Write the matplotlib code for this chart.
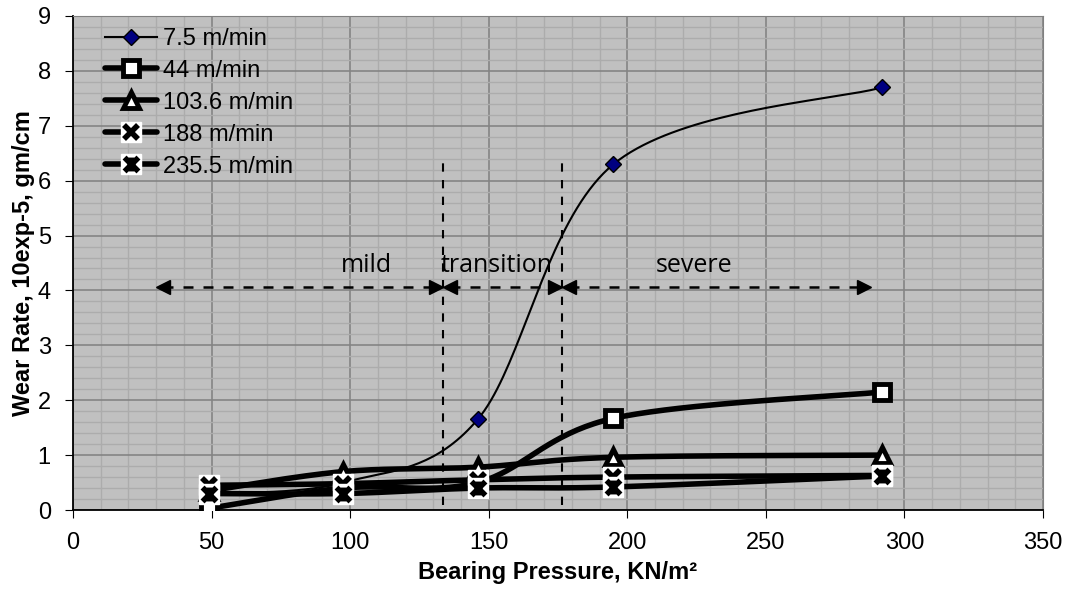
import numpy as np
import matplotlib.pyplot as plt
from matplotlib.path import Path
from matplotlib.legend_handler import HandlerTuple

# Datos
presion = [49, 97.5, 146, 195, 292]
v_7_5 = [0.3, 0.5, 1.65, 6.3, 7.7]
v_44 = [0.03, 0.4, 0.5, 1.67, 2.15]
v_103_6 = [0.35, 0.7, 0.78, 0.96, 1.0]
v_188 = [0.45, 0.48, 0.55, 0.6, 0.63]
v_235_5 = [0.3, 0.3, 0.4, 0.42, 0.62]
etiquetas = ["7.5 m/min", "44 m/min", "103.6 m/min", "188 m/min", "235.5 m/min"]

# zonas
limites = [133.5, 176.5]
flecha_inicio = 30
flecha_fin = 288
nombres_zona = ["mild", "transition", "severe"]
x_nombres = [106, 153, 224]

# escala de pixeles para suavizar como Excel
sx = 970 / 350
sy = 55


def suavizar(x, y, n=40):
    # Catmull-Rom (bezier) en coordenadas de pantalla
    p = np.column_stack([np.array(x) * sx, np.array(y) * sy])
    pts = [p[0]] + list(p) + [p[-1]]
    out = []
    for i in range(1, len(pts) - 2):
        p0, p1, p2, p3 = pts[i - 1], pts[i], pts[i + 1], pts[i + 2]
        c1 = p1 + (p2 - p0) / 6
        c2 = p2 - (p3 - p1) / 6
        t = np.linspace(0, 1, n)[:, None]
        seg = ((1 - t) ** 3) * p1 + 3 * ((1 - t) ** 2) * t * c1 + 3 * (1 - t) * t ** 2 * c2 + t ** 3 * p2
        out.append(seg)
    out = np.vstack(out)
    return out[:, 0] / sx, out[:, 1] / sy


estrella = Path([(-1, -1), (1, 1), (-1, 1), (1, -1), (0, -1), (0, 1)],
                [Path.MOVETO, Path.LINETO, Path.MOVETO, Path.LINETO, Path.MOVETO, Path.LINETO])

plt.rcParams['font.family'] = ['Liberation Sans', 'DejaVu Sans']

fig = plt.figure(figsize=(10.68, 5.92), dpi=100)
ax = fig.add_axes([0.0684, 0.1385, 0.9082, 0.8345])
ax.set_facecolor('#c0c0c0')

ax.set_xlim(0, 350)
ax.set_ylim(0, 9)
ax.set_xticks(np.arange(0, 351, 50))
ax.set_yticks(np.arange(0, 10, 1))
ax.set_xticks(np.arange(0, 351, 10), minor=True)
ax.set_yticks(np.arange(0, 9.01, 0.2), minor=True)
ax.grid(which='minor', color='#acacac', lw=1)
ax.grid(which='major', color='#848484', lw=1.2)
ax.set_axisbelow(True)
ax.tick_params(which='minor', length=0)
ax.tick_params(which='major', direction='out', length=6, labelsize=17, color='black')
ax.tick_params(axis='x', pad=10)
ax.tick_params(axis='y', pad=10)
for lado in ['top', 'right']:
    ax.spines[lado].set_color('#808080')
for lado in ['left', 'bottom']:
    ax.spines[lado].set_color('black')
    ax.spines[lado].set_linewidth(1.3)

ax.set_xlabel("Bearing Pressure, KN/m²", fontsize=17, fontweight='bold', labelpad=5)
ax.set_ylabel("Wear Rate, 10exp-5, gm/cm", fontsize=17, fontweight='bold', labelpad=2)

handles = []

# 7.5 m/min
xs, ys = suavizar(presion, v_7_5)
l1, = ax.plot(xs, ys, color='black', lw=1.5, zorder=3)
m1, = ax.plot(presion, v_7_5, ls='none', marker='D', ms=8, mfc='#000080', mec='black', mew=1, zorder=3)
handles.append((l1, m1))

# 44 m/min
xs, ys = suavizar(presion, v_44)
l2, = ax.plot(xs, ys, color='black', lw=4, zorder=4, solid_capstyle='round')
m2, = ax.plot(presion, v_44, ls='none', marker='s', ms=12, mfc='white', mec='black', mew=3.5, zorder=4)
handles.append((l2, m2))

# 103.6 m/min
xs, ys = suavizar(presion, v_103_6)
l3, = ax.plot(xs, ys, color='black', lw=4, zorder=5, solid_capstyle='round')
m3, = ax.plot(presion, v_103_6, ls='none', marker='^', ms=11, mfc='white', mec='black', mew=3.5, zorder=5)
handles.append((l3, m3))

# 188 m/min
xs, ys = suavizar(presion, v_188)
l4, = ax.plot(xs, ys, color='black', lw=4, zorder=6, solid_capstyle='round')
f4, = ax.plot(presion, v_188, ls='none', marker='s', ms=14, mfc='white', mec='white', zorder=6)
m4, = ax.plot(presion, v_188, ls='none', marker='x', ms=10, mec='black', mew=4, zorder=6)
handles.append((l4, f4, m4))

# 235.5 m/min
xs, ys = suavizar(presion, v_235_5)
l5, = ax.plot(xs, ys, color='black', lw=4, zorder=7, solid_capstyle='round')
f5, = ax.plot(presion, v_235_5, ls='none', marker='s', ms=14, mfc='white', mec='white', zorder=7)
m5, = ax.plot(presion, v_235_5, ls='none', marker=estrella, ms=10, mec='black', mew=4, zorder=7)
handles.append((l5, f5, m5))

ax.legend(handles, etiquetas, loc='upper left', bbox_to_anchor=(0.033, 0.976), frameon=False,
          fontsize=17, handlelength=2.2, handletextpad=0.25, labelspacing=0.42,
          borderpad=0, borderaxespad=0, handler_map={tuple: HandlerTuple(ndivide=1)})

# líneas verticales de zona
for xl in limites:
    ax.plot([xl, xl], [0.1, 6.35], color='black', ls=(0, (4, 4)), lw=1.5, zorder=8)

# flechas
tramos = [(flecha_inicio, limites[0]), (limites[0], limites[1]), (limites[1], flecha_fin)]
ya = 4.07
d = 2.6
for a, b in tramos:
    ax.plot([a + d, b - d], [ya, ya], color='black', ls=(0, (4, 4)), lw=1.8, zorder=8)
    ax.plot([a + d], [ya], marker='<', ms=10, color='black', ls='none', zorder=8)
    ax.plot([b - d], [ya], marker='>', ms=10, color='black', ls='none', zorder=8)

for nombre, xn in zip(nombres_zona, x_nombres):
    ax.text(xn, 4.45, nombre, ha='center', va='center', fontsize=18, family=['Open Sans', 'DejaVu Sans'], zorder=9)

fig.savefig('out.png', dpi=100)
